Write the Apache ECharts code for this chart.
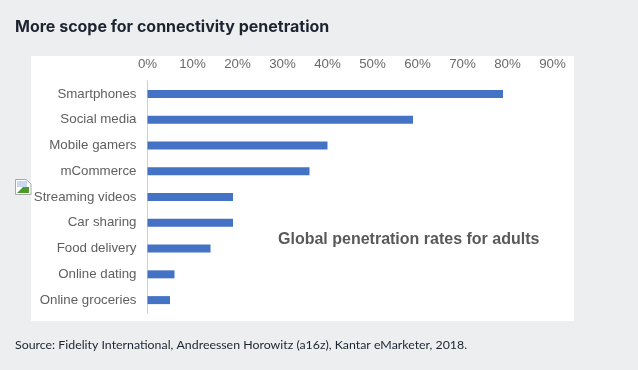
<!DOCTYPE html>
<html><head><meta charset="utf-8">
<style>html,body{margin:0;padding:0;background:#edeef0}#c{width:638px;height:370px}</style>
<script src="https://cdn.jsdelivr.net/npm/echarts@6/dist/echarts.min.js"></script>
</head><body><div id="c"></div>
<script>
var categories=["Smartphones","Social media","Mobile gamers","mCommerce","Streaming videos","Car sharing","Food delivery","Online dating","Online groceries"];
var values=[79,59,40,36,19,19,14,6,5];
var titleText="More scope for connectivity penetration";
var noteText="Global penetration rates for adults";
var sourceText="Source: Fidelity International, Andreessen Horowitz (a16z), Kantar eMarketer, 2018.";
var chart=echarts.init(document.getElementById('c'),null,{renderer:'canvas'});
chart.setOption({
 animation:false,
 backgroundColor:'#edeef0',
 grid:{left:147.5,top:81,width:405,height:232,containLabel:false},
 xAxis:{type:'value',position:'top',min:0,max:90,interval:10,
  axisLine:{show:false},axisTick:{show:false},splitLine:{show:false},
  axisLabel:{formatter:'{value}%',color:'#6a6a6a',fontFamily:'Liberation Sans',fontSize:13.3,margin:10}},
 yAxis:{type:'category',inverse:true,data:categories,
  axisLine:{show:true,lineStyle:{color:'#d0d0d0',width:1}},axisTick:{show:false},
  axisLabel:{color:'#5f5f5f',fontFamily:'Liberation Sans',fontSize:13.3,margin:11,padding:[3,0,0,0]}},
 series:[{type:'bar',data:values,barWidth:8,itemStyle:{color:'#4472c4'},silent:true}],
 graphic:[
  {type:'rect',z:-1,shape:{x:31,y:56,width:543,height:265},style:{fill:'#fff'}},
  {type:'text',x:15,y:19,style:{text:titleText,fill:'#1c2430',font:'bold 16px Inter',textVerticalAlign:'top'}},
  {type:'text',x:278,y:232,style:{text:noteText,fill:'#595959',font:'bold 16px "Liberation Sans"',textVerticalAlign:'top'}},
  {type:'text',x:15,y:339,style:{text:sourceText,fill:'#1c2430',font:'12.35px Lato',textVerticalAlign:'top'}},
  {type:'polygon',shape:{points:[[15.5,179.5],[26,179.5],[31,184],[31,194.5],[15.5,194.5]]},style:{fill:'#fff',stroke:'#a8a8a8',lineWidth:1}},
  {type:'rect',shape:{x:17,y:181,width:10,height:6},style:{fill:'#c8d8f0'}},
  {type:'polygon',shape:{points:[[17,193],[23,187],[29,187],[29,193]]},style:{fill:'#4a9a30'}}
 ]
});
</script></body></html>
